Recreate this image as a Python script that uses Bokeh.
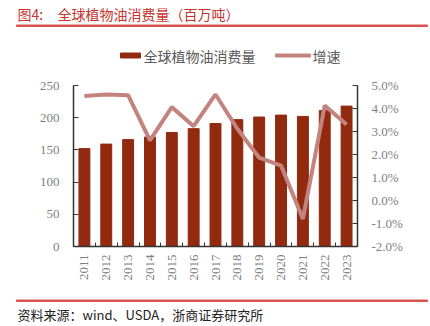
from math import pi
from bokeh.plotting import figure
from bokeh.models import Range1d, LinearAxis, FixedTicker, PrintfTickFormatter
from bokeh.core.properties import value
from bokeh.embed import file_html
from bokeh.resources import INLINE

years = ["2011", "2012", "2013", "2014", "2015", "2016", "2017",
         "2018", "2019", "2020", "2021", "2022", "2023"]
consumption = [152, 159, 166, 170, 177, 183, 191, 197, 201, 204, 202, 211, 218]
growth = [4.54, 4.61, 4.58, 2.61, 4.06, 3.23, 4.61, 3.12, 1.86, 1.52, -0.8, 4.13, 3.3]
left_ticks = [0, 50, 100, 150, 200, 250]
right_ticks = [-2, -1, 0, 1, 2, 3, 4, 5]

title_prefix = "图4:"
title_text = "全球植物油消费量（百万吨）"
legend_bar = "全球植物油消费量"
legend_line = "增速"
source_text = "资料来源：wind、USDA，浙商证券研究所"

BAR = "#922A10"
LINE = "#C3847F"
RED = "#C8322C"
RULE = "#D9534F"
AX = "#333333"
LBL = "#808080"
SERIF = "Liberation Serif"
CJK = "Noto Sans CJK SC"

W = 430
HEAD_H = 70
MAIN_H = 222
FOOT_H = 326 - HEAD_H - MAIN_H

idx = list(range(len(years)))


def blank(h, y0):
    f = figure(width=W, height=h, output_backend="svg", toolbar_location=None,
               x_range=Range1d(0, W), y_range=Range1d(y0 + h, y0),
               x_axis_location=None, y_axis_location=None,
               min_border=0, min_border_left=0, min_border_right=0,
               min_border_top=0, min_border_bottom=0,
               outline_line_color=None, background_fill_color="white",
               border_fill_color="white")
    f.grid.visible = False
    return f


# ---- header: title, rule, legend (coordinates = page pixels)
head = blank(HEAD_H, 0)
head.text(x=[17], y=[13], text=[title_prefix], text_font=value(CJK),
          text_font_size="14px", text_color=RED, text_baseline="middle")
head.text(x=[57], y=[13], text=[title_text], text_font=value(CJK),
          text_font_size="14px", text_color=RED, text_baseline="middle")
head.quad(left=[16], right=[427], top=[24.5], bottom=[26], color=RULE)
head.quad(left=[120], right=[140], top=[52.5], bottom=[57.5], color=BAR)
head.text(x=[143], y=[55], text=[legend_bar], text_font=value(CJK),
          text_font_size="14px", text_color="#595959", text_baseline="middle")
head.quad(left=[275], right=[310], top=[53.5], bottom=[56.5], color=LINE)
head.text(x=[312], y=[55], text=[legend_line], text_font=value(CJK),
          text_font_size="14px", text_color="#595959", text_baseline="middle")

# ---- main chart
p = figure(width=W, height=MAIN_H, output_backend="svg", toolbar_location=None,
           x_range=Range1d(-0.5, len(years) - 0.5), y_range=Range1d(0, 250),
           min_border_left=73, min_border_right=73, min_border_top=15,
           min_border_bottom=46, background_fill_color="white",
           border_fill_color="white", outline_line_color=None)
p.extra_y_ranges = {"g": Range1d(-2, 5)}

p.vbar(x=idx, top=consumption, width=0.5, color=BAR)
p.line(x=idx, y=growth, y_range_name="g", line_width=4, color=LINE)

p.xgrid.visible = False
p.ygrid.visible = False

xa = p.xaxis[0]
xa.ticker = FixedTicker(ticks=idx, minor_ticks=[i - 0.5 for i in range(len(years) + 1)])
xa.major_label_overrides = {i: y for i, y in enumerate(years)}
xa.major_label_orientation = pi / 2
xa.major_tick_in = 0
xa.major_tick_out = 0
xa.minor_tick_in = 4
xa.minor_tick_out = 0
xa.minor_tick_line_color = AX
xa.axis_line_color = AX
xa.axis_line_width = 1.5
xa.major_label_standoff = 8
xa.major_label_text_font = SERIF
xa.major_label_text_font_size = "13px"
xa.major_label_text_color = LBL

ya = p.yaxis[0]
ya.ticker = FixedTicker(ticks=left_ticks)
ya.major_tick_in = 5
ya.major_tick_out = 0
ya.minor_tick_line_color = None
ya.axis_line_color = AX
ya.axis_line_width = 1.5
ya.major_tick_line_color = AX
ya.major_label_standoff = 14
ya.major_label_text_font = SERIF
ya.major_label_text_font_size = "13px"
ya.major_label_text_color = LBL

ra = LinearAxis(y_range_name="g", ticker=FixedTicker(ticks=right_ticks),
                formatter=PrintfTickFormatter(format="%.1f%%"))
ra.major_tick_in = 5
ra.major_tick_out = 0
ra.minor_tick_line_color = None
ra.axis_line_color = AX
ra.axis_line_width = 1.5
ra.major_tick_line_color = AX
ra.major_label_standoff = 14
ra.major_label_text_font = SERIF
ra.major_label_text_font_size = "13px"
ra.major_label_text_color = LBL
p.add_layout(ra, "right")

# ---- footer: rule and source
y0 = HEAD_H + MAIN_H
foot = blank(FOOT_H, y0)
foot.quad(left=[16], right=[427], top=[299.5], bottom=[301], color=RULE)
foot.text(x=[17], y=[314], text=[source_text], text_font=value(CJK),
          text_font_size="13px", text_color="#222222", text_baseline="middle")

# separate roots, stacked vertically on the page (no frame alignment)
open("out.html", "w").write(file_html([head, p, foot], INLINE))
